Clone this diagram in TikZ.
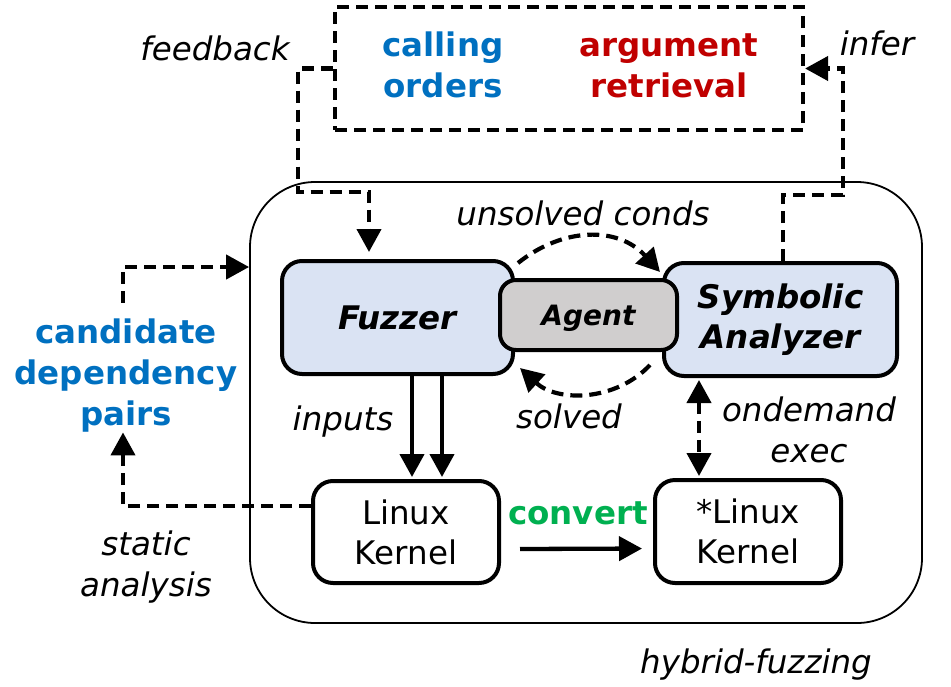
\documentclass[tikz,border=0pt]{standalone}
\usepackage{fontspec}
\setmainfont{DejaVu Sans}
\usetikzlibrary{arrows.meta}
\definecolor{cblue}{HTML}{0070C0}
\definecolor{cred}{HTML}{C00000}
\definecolor{cgreen}{HTML}{00B050}
\definecolor{fillblue}{HTML}{DAE3F3}
\definecolor{fillgray}{HTML}{D0CECE}
\begin{document}
\begin{tikzpicture}[x=1pt,y=-1pt,
  txt/.style={inner sep=0pt, font=\fontsize{32.5}{41}\selectfont},
  lbl/.style={txt, font=\fontsize{32.5}{41}\selectfont\itshape},
  bld/.style={txt, font=\fontsize{32.5}{41}\selectfont\bfseries},
  box/.style={draw, line width=4pt, rounded corners=20pt, inner sep=0pt, align=center,
    font=\fontsize{32.5}{40}\selectfont},
  tipS/.style={-{Triangle[length=23pt,width=24pt]}},
  sarrow/.style={line width=4.3pt, tipS},
  darrow/.style={line width=4.2pt, dash pattern=on 12pt off 7pt, tipS},
]
\useasboundingbox (0,0) rectangle (951,686);

% big hybrid-fuzzing frame
\node[draw, line width=1.8pt, rounded corners=65pt, minimum width=672pt, minimum height=441pt, inner sep=0pt]
  (big) at (586,402.5) {};
% top dashed box
\node[draw, line width=4.2pt, dash pattern=on 12pt off 7pt, minimum width=468pt, minimum height=123pt, inner sep=0pt]
  (top) at (569,68.5) {};
\node[bld, text=cblue, align=center] (calling) at (443,65) {calling\\orders};
\node[bld, text=cred, align=center] (argret) at (669,65.75) {argument\\retrieval};

% main boxes
\node[box, fill=fillblue, minimum width=231pt, minimum height=113pt] (fuzz) at (397.5,317.5)
  {\bfseries\itshape Fuzzer};
\node[box, fill=fillblue, minimum width=233pt, minimum height=113pt] (sym) at (780.5,319.5)
  {\bfseries\itshape Symbolic\\\bfseries\itshape Analyzer};
\node[box, fill=fillgray, minimum width=177pt, minimum height=70pt, font=\fontsize{28}{34}\selectfont\bfseries\itshape, text depth=0pt, rounded corners=16pt] (agent) at (588.5,315)
  {Agent};
\node[box, fill=white, minimum width=186pt, minimum height=102pt] (lk) at (406,532)
  {Linux\\Kernel};
\node[box, fill=white, minimum width=186pt, minimum height=103pt] (slk) at (748,531.5)
  {*Linux\\Kernel};

% labels
\node[lbl, anchor=base] (lfeed) at (215,60) {feedback};
\node[lbl, anchor=base] (linfer) at (877,55) {infer};
\node[lbl, anchor=base] (lunsolved) at (583,225) {unsolved conds};
\node[lbl, anchor=base] (linputs) at (343,430) {inputs};
\node[lbl, anchor=base] (lsolved) at (569,428) {solved};
\node[lbl, anchor=base] (lhybrid) at (756,673) {hybrid-fuzzing};
\node[bld, text=cgreen, anchor=base] (lconvert) at (578,524) {convert};
\node[lbl, align=center] (lond) at (809,430) {ondemand\\exec};
\node[lbl, align=center] (lstatic) at (146,567) {static\\analysis};
\node[bld, text=cblue, align=center] (cand) at (126,375.5) {candidate\\dependency\\pairs};

% helper coordinates
\coordinate (fb1) at (298,192);
\coordinate (fb2) at (369,192);
\coordinate (inf2) at (843,195);
\coordinate (odx) at (699,0);

% feedback
\draw[darrow, shorten >=7pt] (top.west) -| (fb1) -- (fb2) -- (fb2 |- fuzz.north);
% infer
\draw[darrow] ([xshift=2.5pt]sym.north) |- (inf2) |- (top.east);
% unsolved conds
\draw[darrow] ([xshift=3pt,yshift=-4pt]fuzz.north east) .. controls +(45,-36) and +(-42,-46) .. ([xshift=-2pt,yshift=-11pt]sym.north west);
% solved
\draw[darrow] ([xshift=-12pt,yshift=13pt]sym.south west) .. controls +(-35,37) and +(37,34) .. ([xshift=5pt,yshift=8pt]fuzz.south east);
% inputs
\draw[sarrow, shorten >=2pt] ([xshift=14.5pt]fuzz.south) -- ([xshift=14.5pt]fuzz.south |- lk.north);
\draw[sarrow, shorten >=2pt] ([xshift=44.5pt]fuzz.south) -- ([xshift=44.5pt]fuzz.south |- lk.north);
% convert
\draw[sarrow, shorten >=11pt] ([xshift=19pt,yshift=-17pt]lk.east) -- ([yshift=-17pt]slk.west);
% ondemand exec
\draw[darrow, {Triangle[length=23pt,width=24pt]}-{Triangle[length=23pt,width=24pt]}, shorten <=2pt, shorten >=2pt]
  (sym.south -| odx) -- (slk.north -| odx);
% static analysis
\draw[darrow] ([yshift=26pt]lk.west) -| ([xshift=-3pt]cand.south);
% candidate -> hybrid
\draw[darrow] ([xshift=-3pt,yshift=16pt]cand.north) |- ([yshift=135.5pt]big.west);
\end{tikzpicture}
\end{document}
